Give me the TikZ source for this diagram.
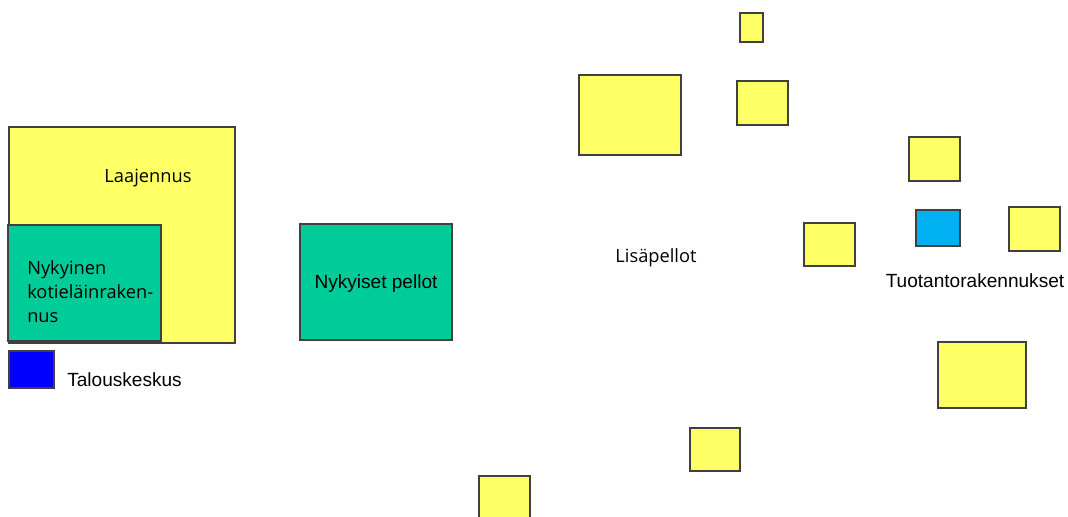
\documentclass[tikz,border=0pt]{standalone}
\usepackage{fontspec}
\setmainfont{Liberation Sans}
\newfontfamily\segoe{Open Sans}
\usetikzlibrary{positioning}

\definecolor{lisakeltainen}{HTML}{FFFF66}
\definecolor{nykyvihrea}{HTML}{00CC99}
\definecolor{talousSininen}{HTML}{0000FF}
\definecolor{tuotantoSininen}{HTML}{00B0F0}
\definecolor{reuna}{HTML}{404040}

\tikzset{
  alue/.style={draw=reuna, line width=0.8pt},
  lisa/.style={alue, fill=lisakeltainen},
  nyky/.style={alue, fill=nykyvihrea},
  teksti/.style={font=\fontsize{14.3}{17}\selectfont, inner sep=0pt},
  sgteksti/.style={font=\segoe\fontsize{13.7}{18}\selectfont, inner sep=0pt}
}

\begin{document}
\begin{tikzpicture}[x=0.75pt, y=-0.75pt]
      \useasboundingbox (0,0) rectangle (1068,517);

      % Laajennus and the current buildings
      \draw[lisa] (9,127) rectangle (235,343);
      \draw[nyky] (8,225) rectangle (161,341);
      \draw[alue, fill=talousSininen] (9,351) rectangle (54,388);

      % Current fields
      \draw[nyky] (300,224) rectangle (452,340);

      % Additional fields
      \foreach \xa/\ya/\xb/\yb in {740/13/763/42, 579/75/681/155, 737/81/788/125,
                                    909/137/960/181, 804/223/855/266, 1009/207/1060/251,
                                    938/342/1026/408, 690/428/740/471, 479/476/530/530} {
        \draw[lisa] (\xa,\ya) rectangle (\xb,\yb);
      }

      % Production building
      \draw[alue, fill=tuotantoSininen] (916,210) rectangle (960,246);

      % Labels
      \node[sgteksti] (laajennus) at (148,178) {Laajennus};
      \node[sgteksti, align=left, anchor=north west] (kotielain) at (27,260)
        {Nykyinen\\kotieläinraken-\\nus};
      \node[teksti, anchor=west] (talous) at (67,380) {Talouskeskus};
      \node[teksti] (pellot) at (376,284) {Nykyiset pellot};
      \node[sgteksti] (lisapellot) at (656,258) {Lisäpellot};
      \node[teksti] (tuotanto) at (975,281) {Tuotantorakennukset};
\end{tikzpicture}
\end{document}
